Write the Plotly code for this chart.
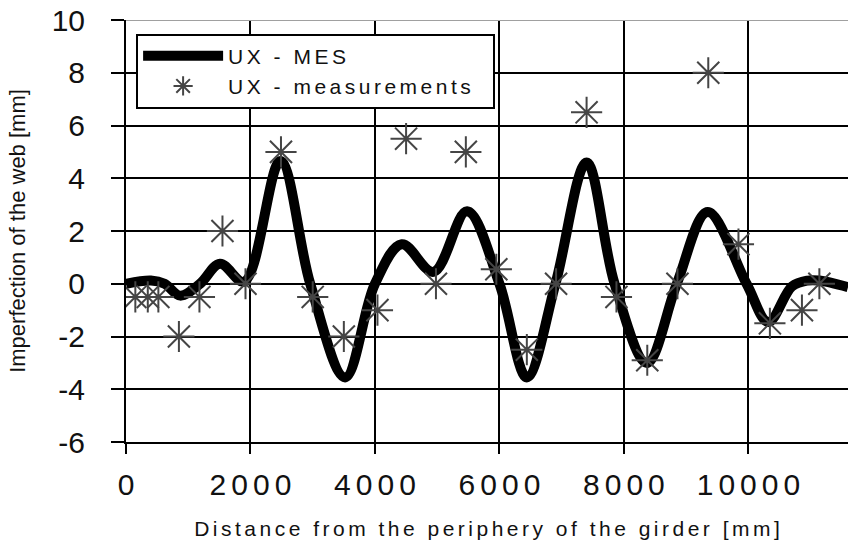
import plotly.graph_objects as go

SP = "\u2006"  # narrow space used for the letter-spaced look of the original

def spaced(s):
    return SP.join(list(s))

# ---- data ----
mes_x = [0, 400, 620, 870, 1190, 1510, 1900, 2480, 2960, 3520, 4000, 4430, 4940,
         5480, 6000, 6440, 6900, 7400, 7850, 8370, 8850, 9345, 9970, 10318,
         10700, 10950, 11140, 11600]
mes_y = [0.0, 0.12, 0.0, -0.45, 0.0, 0.76, 0.08, 4.65, 0.0, -3.55, 0.0, 1.5, 0.45,
         2.75, 0.0, -3.55, 0.0, 4.6, 0.0, -3.0, 0.0, 2.72, 0.0, -1.45,
         -0.1, 0.12, 0.12, -0.13]

meas_x = [150, 350, 520, 850, 1180, 1550, 1920, 2490, 3000, 3500, 4040, 4500,
          4980, 5460, 5950, 6440, 6910, 7400, 7880, 8375, 8860, 9355, 9840,
          10345, 10860, 11140]
meas_y = [-0.5, -0.5, -0.5, -2.0, -0.5, 2.0, 0.0, 5.0, -0.5, -2.0, -1.0, 5.5,
          0.0, 5.0, 0.55, -2.5, 0.0, 6.5, -0.5, -2.9, 0.0, 8.0, 1.5, -1.5,
          -1.0, 0.0]

x_tickvals = [0, 2000, 4000, 6000, 8000, 10000]
y_tickvals = [-6, -4, -2, 0, 2, 4, 6, 8, 10]

series_names = ["UX - MES", "UX - measurements"]
x_title = "Distance from the periphery of the girder [mm]"
y_title = "Imperfection of the web [mm]"

FONT = "Liberation Sans, Arial, sans-serif"

fig = go.Figure()
fig.add_trace(go.Scatter(
    x=mes_x, y=mes_y, mode="lines", name=spaced(series_names[0]),
    line=dict(color="black", width=10, shape="spline", smoothing=1.0),
    legendgroup="a",
))
fig.add_trace(go.Scatter(
    x=meas_x, y=meas_y, mode="markers",
    name=spaced(series_names[1]) + "\u00a0\u2002",
    marker=dict(symbol="asterisk-open", size=26, color="#454545",
                line=dict(color="#454545", width=2)),
    legendgroup="b",
))

fig.update_layout(
    width=848, height=543,
    margin=dict(l=126, r=0, t=20, b=101),
    paper_bgcolor="white", plot_bgcolor="white",
    font=dict(family=FONT, color="#111"),
    showlegend=True,
    legend=dict(
        x=0.014, y=0.968, xanchor="left", yanchor="top",
        bgcolor="white", bordercolor="black", borderwidth=2,
        font=dict(size=21, family=FONT, color="#111"),
        itemwidth=80, tracegroupgap=0, traceorder="grouped",
    ),
    xaxis=dict(
        range=[0, 11600], tickvals=x_tickvals,
        ticktext=[spaced(str(v)) for v in x_tickvals],
        showgrid=True, gridcolor="black", gridwidth=2,
        zeroline=False, showline=True, linecolor="black", linewidth=2,
        ticks="outside", ticklen=10, tickwidth=2, tickcolor="black",
        tickfont=dict(size=30, family=FONT, color="#111"),
        ticklabelstandoff=5, automargin=False,
        title=dict(text=spaced(x_title), font=dict(size=21, family=FONT, color="#111"),
                   standoff=21),
    ),
    yaxis=dict(
        range=[-6, 10], tickvals=y_tickvals,
        ticktext=[str(v) for v in y_tickvals],
        showgrid=True, gridcolor="black", gridwidth=2,
        zeroline=False, showline=True, linecolor="black", linewidth=2,
        ticks="outside", ticklen=13, tickwidth=2, tickcolor="black",
        tickfont=dict(size=30, family=FONT, color="#111"),
        ticklabelstandoff=20, automargin=False,
        title=dict(text=y_title, font=dict(size=22, family=FONT, color="#111"),
                   standoff=20),
    ),
    shapes=[dict(type="line", xref="paper", yref="y", x0=0, x1=1, y0=10, y1=10,
                 line=dict(color="#a0a0a0", width=2), layer="above")],
)

fig.write_html("out.html", config={"displayModeBar": False},
               post_script="document.body.style.margin='0';document.body.style.overflow='hidden';")
